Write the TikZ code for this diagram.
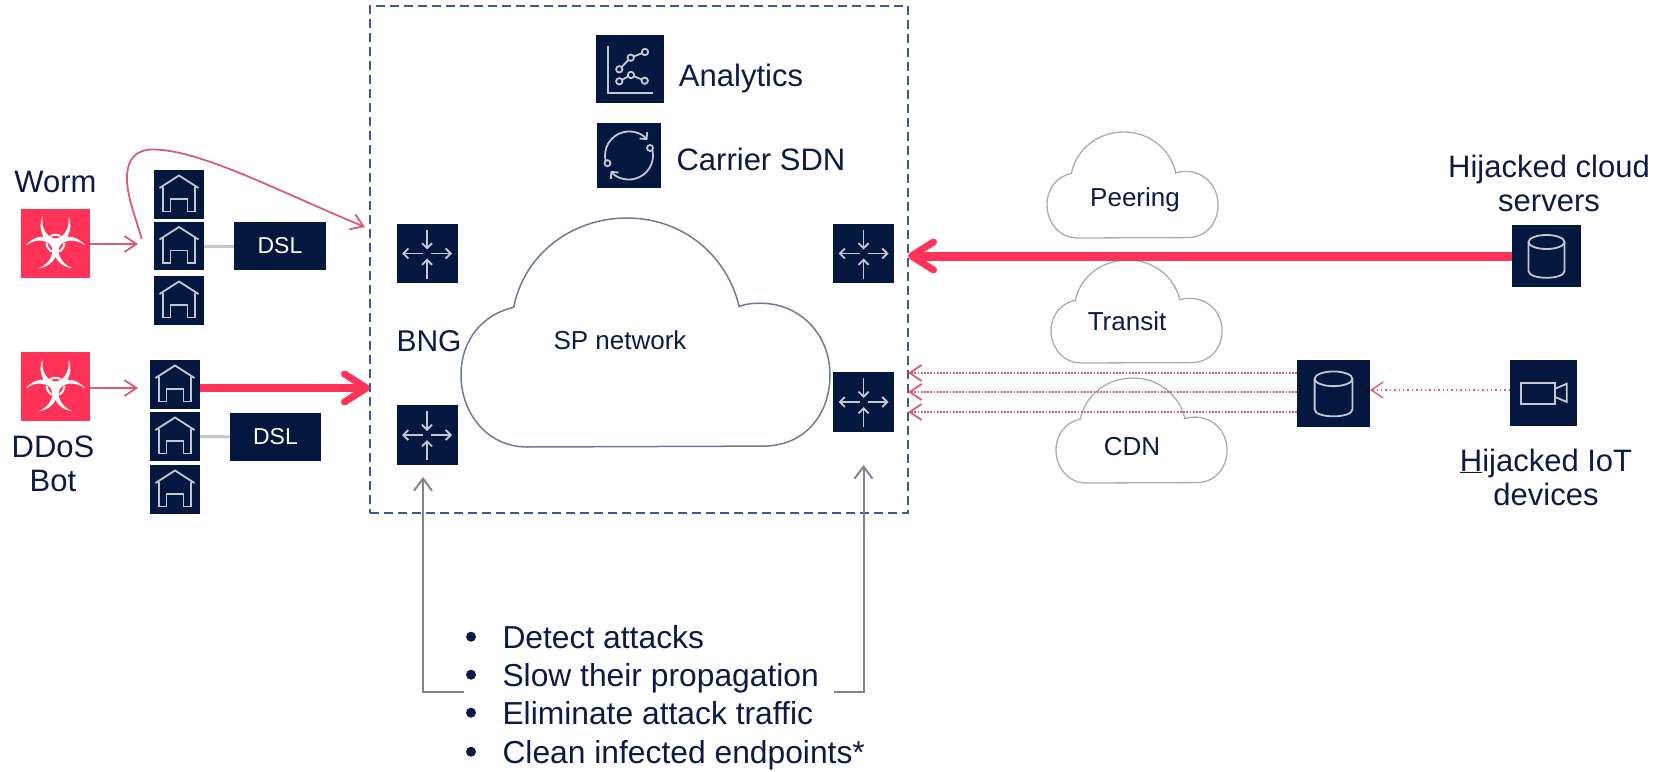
\documentclass[tikz,border=0pt]{standalone}
\usepackage{fontspec}
\setsansfont{Liberation Sans}
\usetikzlibrary{arrows.meta}
\definecolor{boxnavy}{HTML}{04173F}
\definecolor{textnavy}{HTML}{0B1B45}
\definecolor{glyphgrey}{HTML}{C3C7D1}
\definecolor{attackred}{HTML}{FF3358}
\definecolor{thinred}{HTML}{DB5A78}
\definecolor{framblue}{HTML}{3A5A90}
\definecolor{leadgrey}{HTML}{7F8490}
\definecolor{cloudgrey}{HTML}{A9ACB6}
\definecolor{spcloud}{HTML}{6F7A94}
\tikzset{
    pics/cloudshape/.style={code={
        \draw (.179,1) .. controls (.07,1) and (0,.85) .. (0,.686) .. controls (0,.53) and (.06,.42) .. (.143,.39) .. controls (.17,.16) and (.3,0) .. (.449,0) .. controls (.6,0) and (.72,.16) .. (.754,.387) .. controls (.77,.375) and (.79,.372) .. (.81,.372) .. controls (.92,.372) and (1,.51) .. (1,.686) .. controls (1,.86) and (.93,.996) .. (.82,.996) -- cycle;
    }},
    pics/routerglyph/.style={code={
        \draw [glyphline,->] (0,-24) -- (0,-4);
        \draw [glyphline,->] (0,25) -- (0,5);
        \draw [glyphline,->] (-4,0) -- (-25,0);
        \draw [glyphline,->] (4,0) -- (25,0);
    }},
    pics/houseglyph/.style={code={
        \draw [glyphline] (-19.5,-6.5) -- (0,-19) -- (19.5,-6.5);
        \draw [glyphline] (-16,-8) -- (-16,17) -- (-8.5,17) -- (-8.5,4.5) -- (8.5,4.5) -- (8.5,17) -- (16,17) -- (16,-8);
    }},
    pics/cylinderglyph/.style={code={
        \draw [glyphline] (0,-14) ellipse [x radius=18,y radius=7];
        \draw [glyphline] (-18,-14) -- (-18,15) .. controls (-18,24) and (18,24) .. (18,15) -- (18,-14);
    }},
    pics/cameraglyph/.style={code={
        \draw [glyphline] (-22.7,-10) rectangle (11.7,11.3);
        \draw [glyphline] (11.7,-4.3) -- (23.3,-9.3) -- (23.3,9) -- (11.7,4);
    }},
    pics/chartglyph/.style={code={
        \draw [glyphline] (-22.3,-22.7) -- (-22.3,23.7) -- (23.3,23.7);
        \draw [glyphline] (-10.7,.3) -- (.7,-11.3) -- (15,-17);
        \draw [glyphline] (-10.7,12.3) -- (1,6) -- (14.7,11.7);
        \foreach \px/\py in {-10.7/.3,.7/-11.3,15/-17,-10.7/12.3,1/6,14.7/11.7}
            \filldraw [glyphline,fill=boxnavy] (\px,\py) circle (3.2);
    }},
    pics/loopglyph/.style={code={
        \draw [glyphline,->] (165:24) arc [start angle=165,end angle=320,radius=24];
        \draw [glyphline,->] (-15:24) arc [start angle=-15,end angle=140,radius=24];
        \filldraw [glyphline,fill=boxnavy] (21,-7.5) circle (3);
        \filldraw [glyphline,fill=boxnavy] (-21.5,7.7) circle (3);
    }},
    pics/biohazard/.style={code={
        \foreach \ang in {0,120,240} {
            \fill [white,rotate=\ang] (-13,-27) .. controls (-19,-13) and (-10,0) .. (0,2) .. controls (10,0) and (19,-13) .. (13,-27) .. controls (15,-13) and (6,-5) .. (0,-5) .. controls (-6,-5) and (-15,-13) .. (-13,-27) -- cycle;
            \draw [white,line width=2pt,rotate=\ang] (-5,-7.5) .. controls (-2,-9) and (2,-9) .. (5,-7.5);
        }
    }},
}

\begin{document}
\begin{tikzpicture}[x=1pt,y=-1pt,every node/.style={inner sep=0pt, outer sep=0pt},
        iconbox/.style={fill=boxnavy, text=white},
        glyphline/.style={draw=glyphgrey, line width=1.8pt, >={Straight Barb[length=5pt,width=10pt]}},
        badbox/.style={fill=attackred},
        bigtext/.style={text=textnavy, font=\sffamily\fontsize{31}{34}\selectfont, align=center},
        smalltext/.style={text=textnavy, font=\sffamily\fontsize{26}{30}\selectfont},
        dsltext/.style={font=\sffamily\fontsize{23}{26}\selectfont},
        thinarrow/.style={draw=thinred, line width=1.8pt, -{Straight Barb[length=12pt,width=16pt]}},
        dotarrow/.style={thinarrow, dash pattern=on 1.8pt off 1.4pt, line width=1.8pt},
        faintarrow/.style={thinarrow, dash pattern=on 1.4pt off 3pt, line width=1.4pt},
        fatarrow/.style={draw=attackred, -{Straight Barb[length=22pt,width=28pt,line width=7pt,round]}},
        leadarrow/.style={draw=leadgrey, line width=2pt, -{Straight Barb[length=12pt,width=18pt]}},
        dslline/.style={draw=glyphgrey, line width=3pt},
        listdot/.style={circle, fill=textnavy, minimum size=10}]
        \useasboundingbox (0,0) rectangle (1669,771);

        \node [draw=framblue, line width=2pt, dash pattern=on 9pt off 5pt, minimum width=538, minimum height=507] at (639,259.5) (spbox) {};

        \pic [draw=spcloud, line width=1.5pt, xscale=369, yscale=229] at (461,218) {cloudshape};
        \pic [draw=cloudgrey, line width=1.3pt, xscale=171, yscale=106] at (1047,132) {cloudshape};
        \pic [draw=cloudgrey, line width=1.3pt, xscale=171, yscale=103] at (1051,260) {cloudshape};
        \pic [draw=cloudgrey, line width=1.3pt, xscale=171, yscale=105] at (1056,378) {cloudshape};
        \node [smalltext, anchor=base] at (620,349) (splabel) {SP network};
        \node [smalltext, anchor=base] at (1135,206) (peering) {Peering};
        \node [smalltext, anchor=base] at (1127,330) (transit) {Transit};
        \node [smalltext, anchor=base] at (1132,455) (cdn) {CDN};

        % attack sources and homes
        \node [badbox, minimum width=69, minimum height=69] at (55.5,243.5) (worm) {};
        \node [badbox, minimum width=69, minimum height=69] at (55.5,386.5) (bot) {};
        \pic at (worm.center) {biohazard};
        \pic at (bot.center) {biohazard};
        \node [bigtext, anchor=base] at (55.5,192) (wormlabel) {Worm};
        \node [bigtext] at (53,464) (botlabel) {DDoS\\Bot};
        \foreach \name/\xx/\yy/\hh in {homea/179/194.5/49,homeb/179/246/48,homec/179/300.5/49,homed/175/384.5/49,homee/175/436.5/49,homef/175/489.5/49} {
                \node [iconbox, minimum width=50, minimum height=\hh] at (\xx,\yy) (\name) {};
                \pic at (\name.center) {houseglyph};
        }
        \node [iconbox, dsltext, minimum width=92, minimum height=48] at (280,246) (dsla) {DSL};
        \node [iconbox, dsltext, minimum width=91, minimum height=48] at (275.5,437) (dslb) {DSL};
        \draw [dslline] (homeb) -- (dsla);
        \draw [dslline] (homee) -- (dslb);

        % routers
        \foreach \name/\xx/\yy/\hh in {routera/427/253.5/59,routerb/427/435/60,routerc/863.5/253.5/59,routerd/863.5/402/60} {
                \node [iconbox, minimum width=61, minimum height=\hh] at (\xx,\yy) (\name) {};
                \pic at (\name.center) {routerglyph};
        }
        \node [bigtext, font=\sffamily\fontsize{30}{33}\selectfont, anchor=base] at (429,351) (bng) {BNG};

        \node [iconbox, minimum width=68, minimum height=68] at (630,69) (analyticsicon) {};
        \pic at (analyticsicon.center) {chartglyph};
        \node [iconbox, minimum width=64, minimum height=65] at (629,155.5) (sdnicon) {};
        \pic at (sdnicon.center) {loopglyph};
        \node [bigtext, anchor=base] at (741,86) (analytics) {Analytics};
        \node [bigtext, anchor=base] at (761,170) (sdn) {Carrier SDN};

        % far side
        \node [iconbox, minimum width=69, minimum height=62] at (1546.5,256) (cloudsrv) {};
        \pic at (cloudsrv.center) {cylinderglyph};
        \node [iconbox, minimum width=73, minimum height=67] at (1333.5,393.5) (cdnsrv) {};
        \pic [scale=1.05] at (cdnsrv.center) {cylinderglyph};
        \node [iconbox, minimum width=67, minimum height=66] at (1543.5,393) (camera) {};
        \pic at (camera.center) {cameraglyph};
        \node [bigtext] at (1549,183) (cloudlabel) {Hijacked cloud\\servers};
        \node [bigtext] at (1546,477) (iotlabel) {\underline{H}ijacked IoT\\devices};

        % attack traffic
        \coordinate (wormend) at (138,244);
        \coordinate (botend) at (138,388);
        \coordinate (wormup) at (141.7,239);
        \coordinate (wormtip) at (365,227);
        \draw [thinarrow] (worm.east |- wormend) -- (wormend);
        \draw [thinarrow] (bot.east |- botend) -- (botend);
        \draw [thinarrow] (wormup) .. controls (136,218) and (126,195) .. (127,175) .. controls (128,160) and (135,149.5) .. (153,149.5) .. controls (200,149.5) and (280,192) .. (wormtip);
        \coordinate (fatstart) at (200,388);
        \draw [fatarrow, line width=7.5pt] (fatstart) -- (fatstart -| spbox.west);
        \draw [fatarrow, line width=9pt] (cloudsrv.west) -- (cloudsrv.west -| spbox.east);
        \foreach \yy in {373,392,412}
                \draw [dotarrow] (cdnsrv.west |- 0,\yy) -- (spbox.east |- 0,\yy);
        \draw [faintarrow] (camera.west |- 0,390) -- (cdnsrv.east |- 0,390);

        % bullet list and its two leads
        \foreach \name/\yy/\txt in {itema/648/Detect attacks,itemb/686/Slow their propagation,itemc/724/Eliminate attack traffic,itemd/763/Clean infected endpoints*} {
                \node [bigtext, font=\sffamily\fontsize{31.8}{34}\selectfont, anchor=base west] at (502.5,\yy) (\name) {\txt};
                \node [listdot] at (471,\yy-11.3) (\name dot) {};
        }
        \coordinate (leadleft) at (464,692);
        \coordinate (leadright) at (834,692);
        \coordinate (leadtip) at (423,477);
        \draw [leadarrow] (leadleft) -| (leadtip);
        \draw [leadarrow, shorten >=33pt] (leadright) -| (routerd.south);
\end{tikzpicture}
\end{document}
